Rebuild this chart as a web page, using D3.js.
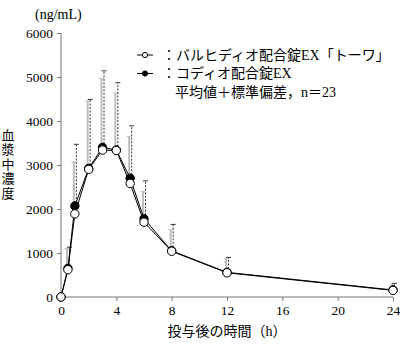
<!DOCTYPE html>
<html><head><meta charset="utf-8">
<script src="https://cdn.jsdelivr.net/npm/d3@7"></script>
<style>
html,body{margin:0;padding:0;background:#fff;}
svg{display:block;}
text{font-family:"Liberation Serif","Noto Sans CJK JP",serif;fill:#000;}
</style></head>
<body>
<script>
const times = [0, 0.5, 1, 2, 3, 4, 5, 6, 8, 12, 24];
const openMean = [0, 620, 1890, 2900, 3340, 3330, 2580, 1700, 1040, 550, 150];
const openSD = [0, 480, 1180, 1550, 1630, 1310, 1070, 700, 490, 320, 140];
const filledMean = [0, 650, 2070, 2920, 3400, 3340, 2700, 1780, 1050, 560, 160];
const filledSD = [0, 480, 1400, 1570, 1740, 1530, 1190, 860, 600, 340, 150];
const xTicks = [0, 4, 8, 12, 16, 20, 24];
const yTicks = [0, 1000, 2000, 3000, 4000, 5000, 6000];
const legendLabels = ["：バルヒディオ配合錠EX「トーワ」", "：コディオ配合錠EX", "平均値＋標準偏差，n＝23"];
const yTitle = "血漿中濃度";
const xTitle = "投与後の時間（h）";
const unitLabel = "(ng/mL)";

const W = 400, H = 344;
const svg = d3.select("body").append("svg").attr("width", W).attr("height", H);
const x = d3.scaleLinear().domain([0, 24]).range([61, 393]);
const y = d3.scaleLinear().domain([0, 6000]).range([297, 33]);

// axes
const yAxis = svg.append("g").attr("transform", `translate(${x(0)},0)`)
  .call(d3.axisLeft(y).tickValues(yTicks).tickSize(4).tickPadding(4).tickFormat(d3.format("d")));
const xAxis = svg.append("g").attr("transform", `translate(0,${y(0)})`)
  .call(d3.axisBottom(x).tickValues(xTicks).tickSize(4).tickPadding(4).tickFormat(d3.format("d")));
[yAxis, xAxis].forEach(g => {
  g.select(".domain").attr("stroke", "#777").attr("stroke-width", 1);
  g.selectAll(".tick line").attr("stroke", "#777");
  g.selectAll(".tick text").attr("font-size", 13.5).attr("font-family", "Liberation Serif").attr("fill", "#000");
});
yAxis.select(".domain").attr("d", `M0,${y(0)}V${y(6000)}`);
xAxis.select(".domain").attr("d", `M${x(0)},0H${x(24)}`);

const data = times.map((t, i) => ({t, om: openMean[i], os: openSD[i], fm: filledMean[i], fs: filledSD[i]}));

// error bars: open (gray solid), filled (dark dashed)
const eb = svg.append("g");
data.filter(d => d.os > 0).forEach(d => {
  const cx = x(d.t) - 1;
  eb.append("line").attr("x1", cx).attr("x2", cx).attr("y1", y(d.om)).attr("y2", y(d.om + d.os))
    .attr("stroke", "#bdbdbd").attr("stroke-width", 2);
  eb.append("line").attr("x1", cx - 2.5).attr("x2", cx + 2.5).attr("y1", y(d.om + d.os)).attr("y2", y(d.om + d.os))
    .attr("stroke", "#bdbdbd").attr("stroke-width", 1);
});
data.filter(d => d.fs > 0).forEach(d => {
  const cx = x(d.t) + 1.5;
  eb.append("line").attr("x1", cx).attr("x2", cx).attr("y1", y(d.fm)).attr("y2", y(d.fm + d.fs))
    .attr("stroke", "#333").attr("stroke-width", 1).attr("stroke-dasharray", "2,1.5");
  eb.append("line").attr("x1", cx - 2.5).attr("x2", cx + 2.5).attr("y1", y(d.fm + d.fs)).attr("y2", y(d.fm + d.fs))
    .attr("stroke", "#333").attr("stroke-width", 1);
});

// lines
const lineF = d3.line().x(d => x(d.t)).y(d => y(d.fm));
const lineO = d3.line().x(d => x(d.t)).y(d => y(d.om));
svg.append("path").datum(data).attr("d", lineF).attr("fill", "none").attr("stroke", "#000").attr("stroke-width", 1);
svg.append("path").datum(data).attr("d", lineO).attr("fill", "none").attr("stroke", "#000").attr("stroke-width", 1);

// markers
svg.append("g").selectAll("circle").data(data).join("circle")
  .attr("cx", d => x(d.t)).attr("cy", d => y(d.fm)).attr("r", 4.2)
  .attr("fill", "#000").attr("stroke", "#000").attr("stroke-width", 1);
svg.append("g").selectAll("circle").data(data).join("circle")
  .attr("cx", d => x(d.t)).attr("cy", d => y(d.om)).attr("r", 4.2)
  .attr("fill", "#fff").attr("stroke", "#000").attr("stroke-width", 1);

// legend
const lg = svg.append("g");
const rowsY = [55, 73.5, 92];
[0, 1].forEach(i => {
  lg.append("line").attr("x1", 137).attr("x2", 153).attr("y1", rowsY[i]).attr("y2", rowsY[i])
    .attr("stroke", "#000").attr("stroke-width", 1);
  lg.append("circle").attr("cx", 145).attr("cy", rowsY[i]).attr("r", 2.6)
    .attr("fill", i === 0 ? "#fff" : "#000").attr("stroke", "#000").attr("stroke-width", 1);
});
legendLabels.forEach((s, i) => {
  lg.append("text").attr("x", i < 2 ? 162 : 175).attr("y", rowsY[i]).attr("dy", "0.35em")
    .attr("font-size", 14).text(s);
});

// titles
svg.append("text").attr("x", 35).attr("y", 14).attr("dy", "0.35em").attr("font-size", 14).text(unitLabel);
svg.append("text").attr("x", 227).attr("y", 331).attr("dy", "0.35em").attr("text-anchor", "middle")
  .attr("font-size", 14).text(xTitle);
yTitle.split("").forEach((c, i) => {
  svg.append("text").attr("font-size", 13).attr("text-anchor", "middle")
    .attr("x", 8).attr("y", 135 + i * 14.5).attr("dy", "0.35em").text(c);
});
</script>
</body></html>
